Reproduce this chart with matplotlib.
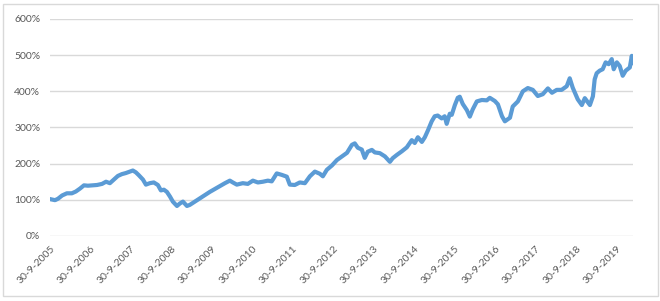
import matplotlib
matplotlib.use("Agg")
import matplotlib.pyplot as plt
import pandas as pd

# ── data (value in % of start) ──────────────────────────────────────────────
dates = [
    "2005-09-30", "2005-11-14", "2005-12-11", "2006-01-17", "2006-03-01", "2006-04-15",
    "2006-05-21", "2006-06-27", "2006-08-02", "2006-09-07", "2006-10-22", "2006-11-28",
    "2007-01-12", "2007-02-17", "2007-03-24", "2007-04-29", "2007-06-04", "2007-07-10",
    "2007-08-15", "2007-09-20", "2007-10-17", "2007-11-13", "2007-12-10", "2008-01-16",
    "2008-02-12", "2008-03-18", "2008-04-23", "2008-05-30", "2008-06-26", "2008-07-23",
    "2008-08-19", "2008-09-16", "2008-10-12", "2008-11-18", "2008-12-15", "2009-01-11",
    "2009-02-16", "2009-03-14", "2009-04-28", "2009-06-12", "2009-07-27", "2009-09-11",
    "2009-10-26", "2009-12-10", "2010-01-25", "2010-03-10", "2010-04-06", "2010-05-12",
    "2010-07-05", "2010-08-19", "2010-10-04", "2010-11-18", "2011-01-02", "2011-02-16",
    "2011-03-23", "2011-05-07", "2011-06-21", "2011-08-06", "2011-09-02", "2011-10-17",
    "2011-12-01", "2012-01-16", "2012-03-01", "2012-04-15", "2012-05-30", "2012-06-26",
    "2012-08-01", "2012-09-16", "2012-10-31", "2012-12-15", "2013-01-30", "2013-03-15",
    "2013-04-10", "2013-05-07", "2013-06-12", "2013-07-09", "2013-08-05", "2013-09-11",
    "2013-10-08", "2013-11-22", "2014-01-07", "2014-02-21", "2014-03-18", "2014-04-24",
    "2014-06-08", "2014-07-23", "2014-09-06", "2014-10-03", "2014-10-31", "2014-12-06",
    "2015-01-02", "2015-01-30", "2015-03-05", "2015-04-01", "2015-04-28", "2015-06-03",
    "2015-06-30", "2015-07-18", "2015-08-15", "2015-09-02", "2015-09-30", "2015-10-26",
    "2015-11-13", "2015-12-10", "2016-01-16", "2016-02-12", "2016-03-09", "2016-04-15",
    "2016-05-30", "2016-07-14", "2016-08-10", "2016-09-25", "2016-10-22", "2016-11-28",
    "2016-12-24", "2017-02-08", "2017-03-05", "2017-04-20", "2017-06-04", "2017-07-19",
    "2017-09-02", "2017-10-17", "2017-12-01", "2018-01-16", "2018-02-22", "2018-04-06",
    "2018-05-20", "2018-07-05", "2018-08-01", "2018-08-28", "2018-10-12", "2018-11-18",
    "2018-12-15", "2019-01-30", "2019-02-26", "2019-03-14", "2019-04-01", "2019-04-28",
    "2019-05-25", "2019-06-21", "2019-07-18", "2019-08-15", "2019-09-02", "2019-09-30",
    "2019-10-26", "2019-11-22", "2019-12-19", "2020-01-25", "2020-02-12", "2020-02-21",
]
values = [
    102, 99, 103, 112, 118, 118,
    123, 131, 140, 139, 140, 141,
    144, 150, 146, 156, 166, 171,
    174, 178, 181, 176, 168, 156,
    142, 146, 148, 141, 126, 128,
    122, 109, 95, 83, 90, 95,
    83, 86, 95, 104, 113, 122,
    130, 138, 146, 153, 148, 142,
    146, 144, 153, 148, 150, 153,
    151, 173, 169, 164, 142, 141,
    148, 146, 165, 178, 172, 165,
    183, 195, 210, 220, 230, 252,
    256, 244, 239, 216, 233, 238,
    231, 229, 220, 205, 215, 224,
    234, 245, 265, 257, 273, 260,
    273, 292, 317, 331, 333, 325,
    331, 310, 338, 335, 362, 382,
    385, 365, 348, 330, 350, 372,
    376, 375, 382, 373, 364, 331,
    317, 327, 358, 372, 400, 409,
    404, 387, 392, 408, 396, 404,
    404, 414, 436, 410, 378, 362,
    381, 362, 386, 433, 450, 457,
    461, 480, 475, 489, 461, 480,
    470, 443, 457, 466, 498, 478,
]
tick_dates = [f"{y}-09-30" for y in range(2005, 2020)]
y_ticks = [0, 100, 200, 300, 400, 500, 600]

x = pd.to_datetime(dates)
xt = pd.to_datetime(tick_dates)

plt.rcParams["font.family"] = ["Lato", "DejaVu Sans"]

fig = plt.figure(figsize=(6.6, 3.01), dpi=100)
ax = fig.add_axes([0.0758, 0.216, 0.883, 0.721])

# outer chart border
fig.patches.append(plt.Rectangle((0.0045, 0.0166), 0.9925, 0.9704, transform=fig.transFigure,
                                 fill=False, edgecolor="#D9D9D9", linewidth=1.0))

ax.plot(x, values, color="#5B9BD5", linewidth=3.0, solid_joinstyle="round")

ax.set_ylim(0, 600)
ax.set_yticks(y_ticks)
ax.set_yticklabels([f"{v}%" for v in y_ticks])
ax.set_xlim(x[0], x[-1])
ax.set_xticks(xt)
ax.set_xticklabels([f"{d.day}-{d.month}-{d.year}" for d in xt], rotation=45,
                   ha="right", va="top", rotation_mode="anchor")

ax.grid(axis="y", color="#D9D9D9", linewidth=1.0)
ax.set_axisbelow(True)
for s in ax.spines.values():
    s.set_visible(False)
ax.tick_params(axis="both", length=0, labelsize=7.5, labelcolor="#595959")
ax.tick_params(axis="y", pad=7)
ax.tick_params(axis="x", pad=6)

fig.savefig("out.png", dpi=100)
